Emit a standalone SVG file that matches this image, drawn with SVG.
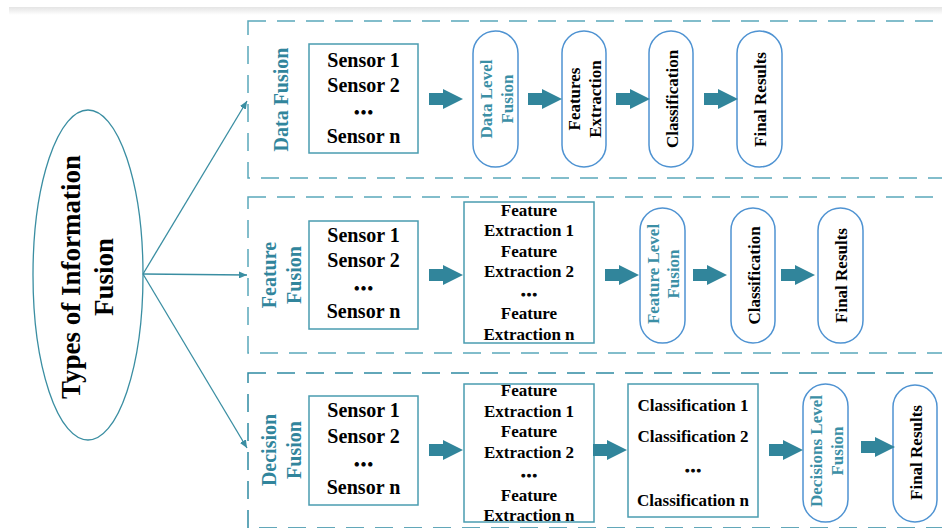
<svg xmlns="http://www.w3.org/2000/svg" width="942" height="528" viewBox="0 0 942 528">
<defs>
<linearGradient id="topShade" x1="0" y1="0" x2="0" y2="1">
<stop offset="0" stop-color="#e4e4e4"/>
<stop offset="1" stop-color="#ffffff"/>
</linearGradient>
<marker id="tip" markerWidth="8" markerHeight="7" refX="8" refY="3.5" orient="auto" markerUnits="userSpaceOnUse">
<path d="M0,0 L8,3.5 L0,7 z" fill="#3a8ea2"/>
</marker>
<path id="bigArrow" d="M0,-6 H14 V-10 L34,0 L14,10 V6 H0 Z"/>
</defs>
<style>
text{font-family:"Liberation Serif","Times New Roman",serif;font-weight:bold;fill:#000}
.s20{font-size:20px;text-anchor:middle}
.s17{font-size:17px;text-anchor:middle}
.dots{stroke:#000;stroke-width:1.1}
.lbl{font-size:20px;text-anchor:middle;fill:#31859c}
.tl{fill:#3b8fa6}
.frame{fill:none;stroke:#5aa8ba;stroke-width:1.5;stroke-dasharray:18 11}
.frame2{fill:none;stroke:#2f8aa3;stroke-width:1.5;stroke-dasharray:18 11}
.box{fill:#fff;stroke:#4a9cb0;stroke-width:1.5}
.pill{fill:#fff;stroke:#4f93d2;stroke-width:1.5}
.big{fill:#31859b}
.line{fill:none;stroke:#3a8ea2;stroke-width:1.3}
</style>
<rect x="9" y="7" width="933" height="8" fill="url(#topShade)"/>

<g id="frames">
<rect class="frame" x="248" y="21" width="720" height="157"/>
<rect class="frame" x="248" y="197" width="720" height="156"/>
<rect class="frame2" x="248" y="373" width="720" height="155" style="stroke:#2f8aa3"/>
</g>

<g id="root">
<ellipse cx="88" cy="275" rx="55" ry="165" fill="#fff" stroke="#3a8ea2" stroke-width="1.3"/>
<g transform="translate(88,277) rotate(-90)">
<text x="0" y="-8" style="font-size:27px;text-anchor:middle">Types of Information</text>
<text x="0" y="25" style="font-size:27px;text-anchor:middle">Fusion</text>
</g>
</g>

<g id="label-data" transform="translate(280,99.5) rotate(-90)"><text class="lbl" x="0" y="8">Data Fusion</text></g>
<g id="label-feature" transform="translate(280,275) rotate(-90)"><text class="lbl" x="0" y="-4">Feature</text><text class="lbl" x="0" y="21">Fusion</text></g>
<g id="label-decision" transform="translate(280,450) rotate(-90)"><text class="lbl" x="0" y="-4">Decision</text><text class="lbl" x="0" y="21">Fusion</text></g>

<!-- Data Fusion row -->
<g id="d-sensors">
<rect class="box" x="309" y="44" width="109" height="109"/>
<text class="s20" x="363.5" y="67">Sensor 1</text>
<text class="s20" x="363.5" y="92">Sensor 2</text>
<text class="s20 dots" x="363.5" y="114">…</text>
<text class="s20" x="363.5" y="143">Sensor n</text>
</g>
<g id="d-dlf">
<rect class="pill" x="473" y="31" width="45" height="136" rx="22.5"/>
<g transform="translate(495.5,99) rotate(-90)"><text class="s17 tl" x="0" y="-3.5">Data Level</text><text class="s17 tl" x="0" y="17.5">Fusion</text></g>
</g>
<g id="d-fe">
<rect class="pill" x="562" y="31" width="44" height="136" rx="22"/>
<g transform="translate(584,99) rotate(-90)"><text class="s17" x="0" y="-4">Features</text><text class="s17" x="0" y="17">Extraction</text></g>
</g>
<g id="d-cls">
<rect class="pill" x="649" y="31" width="44" height="136" rx="22"/>
<g transform="translate(671,99) rotate(-90)"><text class="s17" x="0" y="6.5">Classification</text></g>
</g>
<g id="d-final">
<rect class="pill" x="737" y="31" width="45" height="136" rx="22.5"/>
<g transform="translate(759.5,99.5) rotate(-90)"><text class="s17" x="0" y="6.5">Final Results</text></g>
</g>

<!-- Feature Fusion row -->
<g id="f-sensors">
<rect class="box" x="309" y="221" width="109" height="108"/>
<text class="s20" x="363.5" y="242">Sensor 1</text>
<text class="s20" x="363.5" y="267">Sensor 2</text>
<text class="s20 dots" x="363.5" y="290">…</text>
<text class="s20" x="363.5" y="318">Sensor n</text>
</g>
<g id="f-fe">
<rect class="box" x="464" y="202" width="130" height="141"/>
<text class="s17" x="529" y="216">Feature</text>
<text class="s17" x="529" y="236">Extraction 1</text>
<text class="s17" x="529" y="257">Feature</text>
<text class="s17" x="529" y="277">Extraction 2</text>
<text class="s17 dots" x="529" y="296">…</text>
<text class="s17" x="529" y="319">Feature</text>
<text class="s17" x="529" y="340">Extraction n</text>
</g>
<g id="f-flf">
<rect class="pill" x="640" y="208" width="45" height="135" rx="22.5"/>
<g transform="translate(662.5,274) rotate(-90)"><text class="s17 tl" x="0" y="-3.5">Feature Level</text><text class="s17 tl" x="0" y="16.5">Fusion</text></g>
</g>
<g id="f-cls">
<rect class="pill" x="731" y="208" width="44" height="135" rx="22"/>
<g transform="translate(753,275.5) rotate(-90)"><text class="s17" x="0" y="6.5">Classification</text></g>
</g>
<g id="f-final">
<rect class="pill" x="818" y="208" width="45" height="135" rx="22.5"/>
<g transform="translate(840.5,275.5) rotate(-90)"><text class="s17" x="0" y="6.5">Final Results</text></g>
</g>

<!-- Decision Fusion row -->
<g id="c-sensors">
<rect class="box" x="309" y="396" width="109" height="109"/>
<text class="s20" x="363.5" y="417">Sensor 1</text>
<text class="s20" x="363.5" y="443">Sensor 2</text>
<text class="s20 dots" x="363.5" y="466">…</text>
<text class="s20" x="363.5" y="494">Sensor n</text>
</g>
<g id="c-fe">
<rect class="box" x="464" y="384" width="130" height="138"/>
<text class="s17" x="529" y="396">Feature</text>
<text class="s17" x="529" y="417">Extraction 1</text>
<text class="s17" x="529" y="437">Feature</text>
<text class="s17" x="529" y="458">Extraction 2</text>
<text class="s17 dots" x="529" y="477">…</text>
<text class="s17" x="529" y="501">Feature</text>
<text class="s17" x="529" y="521">Extraction n</text>
</g>
<g id="c-cls">
<rect class="box" x="628" y="384" width="130" height="133"/>
<text class="s17" x="693" y="411">Classification 1</text>
<text class="s17" x="693" y="442">Classification 2</text>
<text class="s17 dots" x="693" y="472">…</text>
<text class="s17" x="693" y="506">Classification n</text>
</g>
<g id="c-dlf">
<rect class="pill" x="803" y="384" width="45" height="138" rx="22.5"/>
<g transform="translate(825.5,451) rotate(-90)"><text class="s17 tl" x="0" y="-3.5">Decisions Level</text><text class="s17 tl" x="0" y="17.5">Fusion</text></g>
</g>
<g id="c-final">
<rect class="pill" x="893" y="385" width="44" height="137" rx="22"/>
<g transform="translate(915,452.5) rotate(-90)"><text class="s17" x="0" y="6.5">Final Results</text></g>
</g>

<g id="connectors">
<line class="line" x1="143" y1="274" x2="247" y2="101" marker-end="url(#tip)"/>
<line class="line" x1="143" y1="274" x2="247" y2="275" marker-end="url(#tip)"/>
<line class="line" x1="143" y1="274" x2="247" y2="448" marker-end="url(#tip)"/>
<use href="#bigArrow" class="big" transform="translate(429,99)"/>
<use href="#bigArrow" class="big" transform="translate(528,99)"/>
<use href="#bigArrow" class="big" transform="translate(616,99)"/>
<use href="#bigArrow" class="big" transform="translate(704,99)"/>
<use href="#bigArrow" class="big" transform="translate(429,275)"/>
<use href="#bigArrow" class="big" transform="translate(605,275)"/>
<use href="#bigArrow" class="big" transform="translate(693,275)"/>
<use href="#bigArrow" class="big" transform="translate(781,275)"/>
<use href="#bigArrow" class="big" transform="translate(429,450)"/>
<use href="#bigArrow" class="big" transform="translate(593,450)"/>
<use href="#bigArrow" class="big" transform="translate(769,450)"/>
<use href="#bigArrow" class="big" transform="translate(861,447)"/>
</g>
</svg>
